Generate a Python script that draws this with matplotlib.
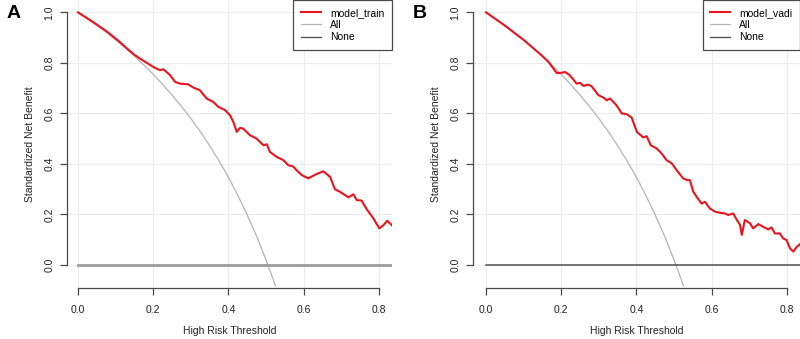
"""Decision curves (train / validation) -> out.png"""

import matplotlib
matplotlib.use("Agg")
import matplotlib.pyplot as plt
from matplotlib.lines import Line2D

plt.rcParams["font.family"] = ["Liberation Sans", "DejaVu Sans"]

# threshold / standardized net benefit
train_x = [0.0, 0.041, 0.076, 0.107, 0.134, 0.150, 0.165, 0.2, 0.218, 0.227,
           0.245, 0.258, 0.271, 0.293, 0.307, 0.324, 0.342, 0.36, 0.373,
           0.391, 0.404, 0.413, 0.422, 0.431, 0.439, 0.457, 0.475, 0.493,
           0.502, 0.51, 0.528, 0.546, 0.559, 0.572, 0.581, 0.595, 0.612,
           0.634, 0.652, 0.67, 0.683, 0.696, 0.719, 0.732, 0.741, 0.754,
           0.767, 0.785, 0.801, 0.812, 0.822, 0.834]
train_y = [1.0, 0.961, 0.925, 0.888, 0.852, 0.832, 0.817, 0.784, 0.771, 0.775,
           0.751, 0.725, 0.718, 0.715, 0.702, 0.692, 0.659, 0.645, 0.626,
           0.613, 0.593, 0.566, 0.527, 0.543, 0.540, 0.514, 0.500, 0.474,
           0.478, 0.448, 0.428, 0.415, 0.395, 0.390, 0.375, 0.356, 0.343,
           0.360, 0.371, 0.349, 0.300, 0.290, 0.268, 0.280, 0.257, 0.255,
           0.222, 0.185, 0.145, 0.158, 0.175, 0.158]

vadi_x = [0.0, 0.05, 0.10, 0.15, 0.166, 0.188, 0.197, 0.21, 0.223, 0.241,
          0.25, 0.259, 0.272, 0.281, 0.299, 0.312, 0.321, 0.33, 0.347, 0.361,
          0.374, 0.387, 0.401, 0.418, 0.427, 0.438, 0.454, 0.467, 0.48,
          0.494, 0.507, 0.524, 0.535, 0.542, 0.551, 0.56, 0.573, 0.582,
          0.595, 0.609, 0.622, 0.635, 0.644, 0.657, 0.667, 0.675, 0.680,
          0.688, 0.702, 0.71, 0.724, 0.737, 0.75, 0.759, 0.768, 0.781, 0.79,
          0.799, 0.808, 0.817, 0.826, 0.835]
vadi_y = [1.0, 0.948, 0.891, 0.827, 0.804, 0.760, 0.760, 0.764, 0.751, 0.718,
          0.721, 0.709, 0.714, 0.707, 0.672, 0.663, 0.652, 0.659, 0.632, 0.600,
          0.597, 0.584, 0.527, 0.505, 0.510, 0.474, 0.461, 0.441, 0.415,
          0.402, 0.375, 0.343, 0.336, 0.336, 0.290, 0.270, 0.243, 0.250,
          0.224, 0.211, 0.207, 0.204, 0.198, 0.204, 0.178, 0.160, 0.119,
          0.178, 0.165, 0.145, 0.162, 0.151, 0.141, 0.149, 0.125, 0.125, 0.105,
          0.099, 0.066, 0.053, 0.072, 0.083]

# treat-all curve (same in both panels)
all_x = [0.0, 0.025, 0.05, 0.075, 0.10, 0.125, 0.15, 0.175, 0.20, 0.225,
         0.25, 0.275, 0.30, 0.325, 0.35, 0.375, 0.40, 0.425, 0.45, 0.475,
         0.50, 0.525]
all_y = [1.0, 0.975, 0.948, 0.921, 0.891, 0.860, 0.827, 0.792, 0.755, 0.715,
         0.673, 0.628, 0.580, 0.528, 0.472, 0.412, 0.347, 0.275, 0.198,
         0.113, 0.020, -0.083]

none_x = [0.0, 0.835]
none_y = [0.0, 0.0]

RED, ALLC, AXC = "#e8141e", "#b4b4b4", "#4a4a4a"
GRID = "#ececec"

panels = [
    ("A", "model_train", train_x, train_y, [67, 392], 78, "#9c9c9c", 2.0),
    ("B", "model_vadi", vadi_x, vadi_y, [473, 800], 486, "#505050", 1.1),
]

W, H = 800, 339
fig = plt.figure(figsize=(W / 100, H / 100), dpi=100, facecolor="white")
px_per_unit = 376.2

for tag, name, xs, ys, (lpx, rpx), zero_px, none_col, none_lw in panels:
    ax = fig.add_axes([lpx / W, 51 / H, (rpx - lpx) / W, 287 / H])
    ax.set_xlim((lpx - zero_px) / px_per_unit, (rpx - zero_px) / px_per_unit)
    ax.set_ylim(-0.091, 1.045)

    for g in [0.0, 0.2, 0.4, 0.6, 0.8]:
        ax.axvline(g, color=GRID, lw=0.8, zorder=0)
    for g in [0.0, 0.2, 0.4, 0.6, 0.8, 1.0]:
        ax.axhline(g, color=GRID, lw=0.8, zorder=0)

    ax.plot(all_x, all_y, color=ALLC, lw=0.9, zorder=2)
    ax.plot(none_x, none_y, color=none_col, lw=none_lw, zorder=2)
    ax.plot(xs, ys, color=RED, lw=1.5, zorder=3)

    for side in ("top", "right"):
        ax.spines[side].set_visible(False)
    for side in ("left", "bottom"):
        ax.spines[side].set_color(AXC)
        ax.spines[side].set_linewidth(0.9)
    ax.spines["left"].set_bounds(0, 1)
    ax.spines["bottom"].set_bounds(0, 0.8)
    ax.set_xticks([0.0, 0.2, 0.4, 0.6, 0.8])
    ax.set_yticks([0.0, 0.2, 0.4, 0.6, 0.8, 1.0])
    ax.set_xticklabels(["0.0", "0.2", "0.4", "0.6", "0.8"])
    ax.set_yticklabels(["0.0", "0.2", "0.4", "0.6", "0.8", "1.0"],
                       rotation=90, va="center")
    ax.tick_params(direction="out", length=5, width=0.9, color=AXC,
                   labelsize=7.5, labelcolor="#222222", pad=4)
    ax.tick_params(axis="x", pad=7)
    ax.set_xlabel("High Risk Threshold", fontsize=7.5, color="#222222",
                  labelpad=8)
    ax.set_ylabel("Standardized Net Benefit", fontsize=7.5, color="#222222",
                  labelpad=7)

    handles = [Line2D([], [], color=RED, lw=1.5),
               Line2D([], [], color=ALLC, lw=0.9),
               Line2D([], [], color="#555555", lw=1.0)]
    leg = ax.legend(handles, [name, "All", "None"], loc="upper right",
                    bbox_to_anchor=(1.0, 1.004), borderaxespad=0,
                    fontsize=7.5, fancybox=False, handlelength=1.9,
                    handletextpad=0.85, labelspacing=0.22, borderpad=0.75,
                    framealpha=1)
    leg.get_frame().set_edgecolor(AXC)
    leg.get_frame().set_linewidth(0.9)

    fig.text((lpx - 53) / W, 1 - 13 / H, tag, fontsize=14, fontweight="bold",
             ha="center", va="center")

fig.savefig("out.png", dpi=100, facecolor="white")
